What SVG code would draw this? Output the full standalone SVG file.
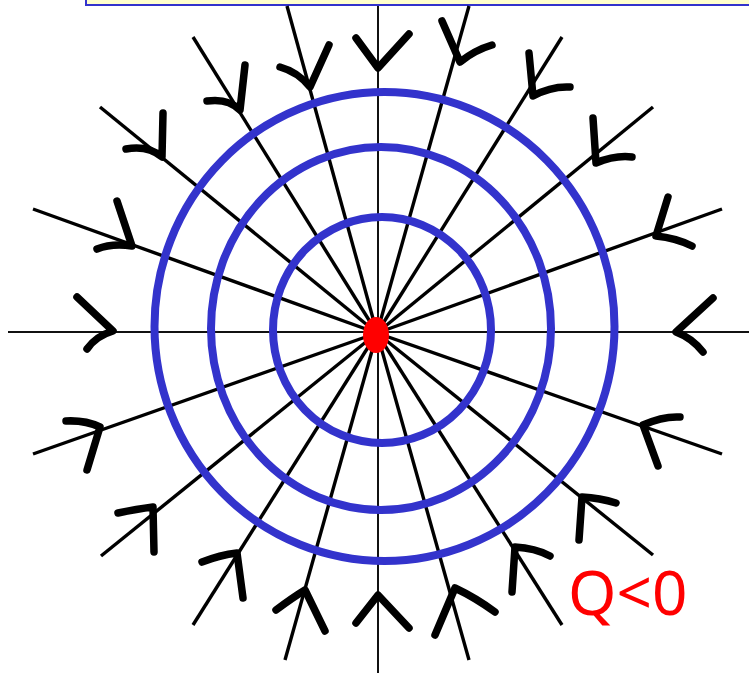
<svg xmlns="http://www.w3.org/2000/svg" width="749" height="673" viewBox="0 0 749 673">
  <style>
    .axis { stroke: #111; stroke-width: 2; fill: none; }
    .field { stroke: #000; stroke-width: 3.4; fill: none; }
    .chev { stroke: #000; stroke-width: 7.5; fill: none; stroke-linecap: round; stroke-linejoin: round; }
    .equi { stroke: #3333cc; stroke-width: 8; fill: none; }
    .label { font-family: "Noto Sans", "Liberation Sans", sans-serif; font-size: 62px; fill: #ff0000; }
  </style>
  <rect width="749" height="673" fill="#ffffff"/>
  <g id="title-box">
    <rect x="86" y="-10" width="680" height="15" fill="#ffffcc" stroke="#3333cc" stroke-width="2"/>
  </g>
  <g id="connectors">
    <line class="axis" x1="8" y1="332" x2="749" y2="332"/>
    <line class="axis" x1="378" y1="6" x2="378" y2="673"/>
    <g id="field-lines">
      <line class="field" x1="287" y1="6" x2="377" y2="333"/>
      <line class="field" x1="193" y1="37" x2="377" y2="333"/>
      <line class="field" x1="100" y1="107" x2="377" y2="333"/>
      <line class="field" x1="33" y1="209" x2="377" y2="333"/>
      <line class="field" x1="469" y1="6" x2="377" y2="333"/>
      <line class="field" x1="562" y1="37" x2="377" y2="333"/>
      <line class="field" x1="653" y1="107" x2="377" y2="333"/>
      <line class="field" x1="722" y1="209" x2="377" y2="333"/>
      <line class="field" x1="33" y1="454" x2="377" y2="333"/>
      <line class="field" x1="101" y1="556" x2="377" y2="333"/>
      <line class="field" x1="193" y1="625" x2="377" y2="333"/>
      <line class="field" x1="285" y1="660" x2="377" y2="333"/>
      <line class="field" x1="722" y1="454" x2="377" y2="333"/>
      <line class="field" x1="653" y1="555" x2="377" y2="333"/>
      <line class="field" x1="562" y1="625" x2="377" y2="333"/>
      <line class="field" x1="469" y1="660" x2="377" y2="333"/>
    </g>
    <g id="arrowheads">
      <path class="chev" d="M356,38 L378,68 L409,34"/>
      <path class="chev" d="M280,67 Q298,72 310,87 L329,45"/>
      <path class="chev" d="M207,101 Q228,98 240,110 L245,65"/>
      <path class="chev" d="M126,149 Q148,145 162,157 L163,113"/>
      <path class="chev" d="M97,249 Q112,243 132,246 L117,201"/>
      <path class="chev" d="M77,297 L113,331 Q96,336 87,349"/>
      <path class="chev" d="M66,421 Q85,420 100,427 L87,470"/>
      <path class="chev" d="M118,513 Q137,509 153,507 L154,552"/>
      <path class="chev" d="M202,562 Q220,555 237,553 L243,598"/>
      <path class="chev" d="M276,610 Q292,598 305,590 L325,631"/>
      <path class="chev" d="M356,623 L378,595 L409,628"/>
      <path class="chev" d="M435,635 L455,588 Q476,598 495,612"/>
      <path class="chev" d="M512,592 L515,547 Q535,548 550,556"/>
      <path class="chev" d="M579,540 L582,497 Q600,498 616,503"/>
      <path class="chev" d="M658,466 L643,425 Q663,416 680,417"/>
      <path class="chev" d="M713,298 L676,332 Q692,338 703,352"/>
      <path class="chev" d="M668,197 L656,236 Q676,238 692,246"/>
      <path class="chev" d="M593,118 L596,163 Q615,155 632,157"/>
      <path class="chev" d="M529,53 L533,96 Q551,86 570,87"/>
      <path class="chev" d="M442,21 L460,62 Q475,50 492,45"/>
    </g>
  </g>
  <g id="equipotentials">
    <ellipse id="equi-outer" class="equi" cx="384.5" cy="326.5" rx="230" ry="234.5"/>
    <ellipse id="equi-middle" class="equi" cx="381" cy="328.5" rx="170" ry="181.5"/>
    <ellipse id="equi-inner" class="equi" cx="382" cy="330" rx="109" ry="113"/>
  </g>
  <g id="charge">
    <ellipse cx="376" cy="335" rx="13" ry="18" fill="#ff0000"/>
  </g>
  <g id="label">
    <text class="label" x="568" y="615">Q&lt;0</text>
  </g>
</svg>
